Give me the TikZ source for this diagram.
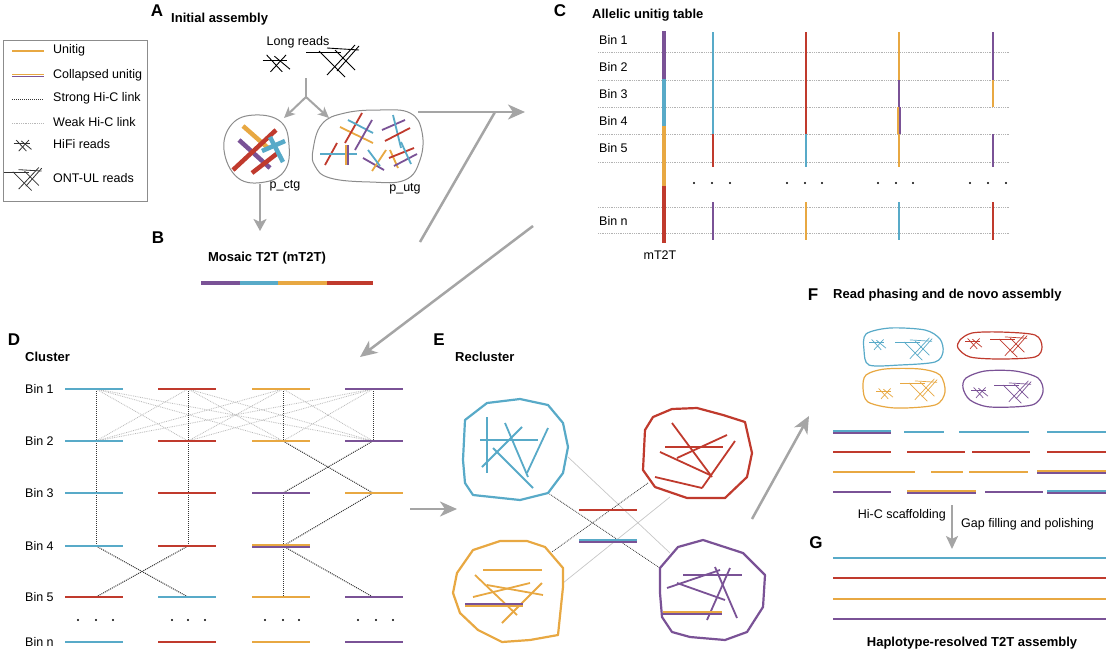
\documentclass[tikz,border=0pt]{standalone}
\usepackage{fontspec}
\setmainfont{Liberation Sans}
\usetikzlibrary{arrows.meta}
\definecolor{cblue}{RGB}{88,170,200}
\definecolor{cred}{RGB}{192,58,45}
\definecolor{corange}{RGB}{232,168,66}
\definecolor{cpurple}{RGB}{122,82,150}
\definecolor{agray}{RGB}{165,165,165}
\newcommand{\hcoll}[5]{%
  \draw[#4, line width=1.8pt] (#1,#3-1) -- (#2,#3-1);
  \draw[#5, line width=1.8pt] (#1,#3+1) -- (#2,#3+1);}
\newcommand{\vcoll}[5]{%
  \draw[#4, line width=1.6pt] (#1-1,#2) -- (#1-1,#3);
  \draw[#5, line width=1.6pt] (#1+1,#2) -- (#1+1,#3);}
\newcommand{\hb}[4]{\draw[#4, line width=2.8pt] (#1,#3) -- (#2,#3);}
\newcommand{\vb}[4]{\draw[#4, line width=2.3pt] (#1,#2) -- (#1,#3);}
\newcommand{\tdots}[4]{\fill (#1,#4) circle (1.1pt); \fill (#2,#4) circle (1.1pt); \fill (#3,#4) circle (1.1pt);}
\tikzset{
  lbl/.style={font=\fontsize{12.5}{14}\selectfont, inner sep=0pt},
  ttl/.style={font=\bfseries\fontsize{13}{15}\selectfont, inner sep=0pt},
  letter/.style={font=\bfseries\fontsize{17}{20}\selectfont, inner sep=0pt},
  strong/.style={densely dotted, line width=1pt, black!80},
  weak/.style={densely dotted, line width=0.8pt, black!28},
  tabline/.style={densely dotted, line width=0.8pt, black!30},
  bigarrow/.style={draw=agray, line width=2.5pt, -{Stealth[length=17pt,width=15pt,inset=5pt]}},
  grayline/.style={draw=agray, line width=2.5pt},
  smallarrow/.style={draw=agray, line width=2pt, -{Stealth[length=11pt,width=10pt,inset=3pt]}},
  blob/.style={line width=2.2pt, line join=round},
  rd/.style={line width=1.8pt},
  thick rd/.style={line width=4.5pt},
  hifi/.pic={
    \draw (-11,-3)--(8,-3);
    \draw (-8,-7)--(4,6);
    \draw (7,-7)--(-5,6);
    \draw (-2,-6)--(10,4);
  },
  ont/.pic={
    \draw (-27,-9)--(8,-9);
    \draw (-6,-13)--(26,-11);
    \draw (-14,-10)--(12,16);
    \draw (22,-16)--(-6,14);
    \draw (2,-11)--(22,9);
    \draw (26,-15)--(4,10);
  },
}
\begin{document}
\begin{tikzpicture}[x=1pt,y=-1pt]
\useasboundingbox[fill=white] (0,0) rectangle (1108,664);

% ---------------- Legend
\draw[black!45, line width=0.8pt] (3,40) rectangle (147,201);
\draw[corange, line width=2.2pt] (12,51) -- (44,51);
\node[lbl, anchor=west] (lg1) at (53,50) {Unitig};
\hcoll{12}{44}{75.5}{corange}{cpurple}
\node[lbl, anchor=west] (lg2) at (53,75) {Collapsed unitig};
\coordinate (ls1) at (12,99); \coordinate (ls2) at (44,99);
\draw[strong] (ls1) -- (ls2);
\node[lbl, anchor=west] (lg3) at (53,98) {Strong Hi-C link};
\coordinate (lw1) at (12,123); \coordinate (lw2) at (44,123);
\draw[weak] (lw1) -- (lw2);
\node[lbl, anchor=west] (lg4) at (53,122) {Weak Hi-C link};
\pic[black!80, line width=0.8pt, scale=0.85] at (23,146) {hifi};
\node[lbl, anchor=west] (lg5) at (53,144) {HiFi reads};
\pic[black!80, line width=0.8pt, scale=0.72] at (23,179) {ont};
\node[lbl, anchor=west] (lg6) at (53,178) {ONT-UL reads};

% ---------------- Panel A
\node[letter] (A) at (157,11) {A};
\node[ttl, anchor=west] (tA) at (171,19) {Initial assembly};
\node[lbl] (lr) at (298,42) {Long reads};
\pic[black, line width=0.9pt, scale=1.3] at (277,64) {hifi};
\pic[black, line width=0.9pt] at (333,61) {ont};
\coordinate (ys) at (306,78); \coordinate (yj) at (306,97);
\coordinate (yl) at (284,118); \coordinate (yr) at (329,118);
\draw[agray, line width=2pt] (ys) -- (yj);
\draw[smallarrow] (yj) -- (yl);
\draw[smallarrow] (yj) -- (yr);
% p_ctg blob
\draw[black!45, line width=1pt] plot[smooth cycle, tension=0.7] coordinates
  {(224,150) (232,124) (255,115) (281,122) (289,145) (285,170) (265,182) (238,178)};
\draw[corange, thick rd] (243,126) -- (268,148);
\draw[cpurple, thick rd] (239,140) -- (270,168);
\draw[cred, thick rd] (233,170) -- (276,130);
\draw[cred, thick rd] (252,173) -- (279,152);
\draw[cblue, thick rd] (262,151) -- (285,141);
\draw[cblue, thick rd] (270,137) -- (283,162);
\node[lbl] (pctg) at (285,186) {p\_ctg};
% p_utg blob
\draw[black!45, line width=1pt] plot[smooth cycle, tension=0.7] coordinates
  {(313,150) (322,124) (345,113) (380,110) (410,113) (422,132) (420,160) (405,180) (370,182) (330,178) (315,166)};
\begin{scope}[line width=1.8pt]
\draw[corange] (340,127) -- (373,143);
\draw[cred] (345,143) -- (362,113);
\draw[cblue] (348,120) -- (373,133);
\draw[cpurple] (355,150) -- (372,120);
\draw[cred] (325,165) -- (337,143);
\draw[cblue] (320,154) -- (357,154);
\draw[corange] (346,145) -- (346,165);
\draw[cpurple] (348,145) -- (348,165);
\draw[cpurple] (382,130) -- (405,120);
\draw[cblue] (393,115) -- (401,148);
\draw[cred] (385,141) -- (410,128);
\draw[cpurple] (363,158) -- (384,170);
\draw[corange] (372,171) -- (386,150);
\draw[cblue] (368,150) -- (380,166);
\draw[corange] (390,150) -- (398,168);
\draw[cred] (389,158) -- (414,148);
\draw[cpurple] (394,166) -- (417,154);
\draw[cblue] (401,142) -- (411,164);
\end{scope}
\node[lbl] (putg) at (405,189) {p\_utg};
\coordinate (a1) at (260,184); \coordinate (a2) at (260,231);
\draw[bigarrow, -{Stealth[length=12pt,width=13pt,inset=3pt]}] (a1) -- (a2);

% ---------------- Panel B
\node[letter] (B) at (158,238) {B};
\node[ttl] (tB) at (267,258) {Mosaic T2T (mT2T)};
\draw[cpurple, line width=4pt] (201,283) -- (240,283);
\draw[cblue, line width=4pt] (240,283) -- (278,283);
\draw[corange, line width=4pt] (278,283) -- (327,283);
\draw[cred, line width=4pt] (327,283) -- (373,283);

% ---------------- Big gray arrows A->C, C->D
\coordinate (z1) at (418,112); \coordinate (z2) at (525,112);
\coordinate (z3) at (495,112); \coordinate (z4) at (420,242);
\draw[bigarrow] (z1) -- (z2);
\draw[grayline] (z4) -- (z3);
\coordinate (z5) at (533,226); \coordinate (z6) at (360,357);
\draw[bigarrow] (z5) -- (z6);

% ---------------- Panel C
\node[letter] (C) at (560,11) {C};
\node[ttl, anchor=west] (tC) at (592,15) {Allelic unitig table};
\foreach \t/\y [count=\i] in {Bin 1/40,Bin 2/67,Bin 3/94,Bin 4/121,Bin 5/148,Bin n/221}
  \node[lbl, anchor=west] (cbin\i) at (599,\y) {\t};
\foreach \y [count=\i] in {52,80,107,134,162,207,233} {
  \coordinate (cl\i a) at (598,\y); \coordinate (cl\i b) at (1010,\y);
  \draw[tabline] (cl\i a) -- (cl\i b);}
\draw[cpurple, line width=4.5pt] (664,31) -- (664,79);
\draw[cblue, line width=4.5pt] (664,79) -- (664,126);
\draw[corange, line width=4.5pt] (664,126) -- (664,186);
\draw[cred, line width=4.5pt] (664,186) -- (664,243);
\node[lbl] (mt) at (660,255) {mT2T};
\vb{713}{32}{134}{cblue} \vb{713}{134}{167}{cred} \vb{713}{202}{240}{cpurple}
\vb{806}{32}{134}{cred} \vb{806}{134}{167}{cblue} \vb{806}{202}{240}{corange}
\vb{899}{32}{80}{corange} \vb{899}{80}{107}{cpurple} \vcoll{899}{107}{134}{corange}{cpurple}
\vb{899}{134}{167}{corange} \vb{899}{202}{240}{cblue}
\vb{993}{32}{80}{cpurple} \vb{993}{80}{107}{corange} \vb{993}{134}{167}{cpurple} \vb{993}{202}{240}{cred}
\tdots{694}{712}{730}{183} \tdots{787}{805}{822}{183}
\tdots{878}{896}{913}{183} \tdots{970}{988}{1006}{183}

% ---------------- Panel D
\node[letter] (D) at (14,340) {D};
\node[ttl, anchor=west] (tD) at (25,357) {Cluster};
\foreach \t/\y [count=\i] in {Bin 1/389,Bin 2/441,Bin 3/493,Bin 4/546,Bin 5/597,Bin n/642}
  \node[lbl, anchor=west] (dbin\i) at (25,\y) {\t};
\foreach \c/\x in {1/96,2/188,3/283,4/373}
  \foreach \r/\y in {1/389,2/441,3/493,4/546,5/597}
    \coordinate (d\r\c) at (\x,\y);
% weak links
\foreach \i in {1,...,4}
  \foreach \j in {1,...,4} {
    \ifnum\i=\j\relax\else \draw[weak] (d1\i) -- (d2\j);\fi}
% strong links
\draw[strong] (d11) -- (d41);
\draw[strong] (d12) -- (d42);
\draw[strong] (d13) -- (d23);
\draw[strong] (d14) -- (d24);
\draw[strong] (d33) -- (d53);
\draw[strong] (d41) -- (d52);
\draw[strong] (d42) -- (d51);
\draw[strong] (d23) -- (d34);
\draw[strong] (d24) -- (d33);
\draw[strong] (d34) -- (d43);
\draw[strong] (d43) -- (d54);
% bars
\hb{65}{123}{389}{cblue} \hb{158}{216}{389}{cred} \hb{252}{310}{389}{corange} \hb{345}{403}{389}{cpurple}
\hb{65}{123}{441}{cblue} \hb{158}{216}{441}{cred} \hb{252}{310}{441}{corange} \hb{345}{403}{441}{cpurple}
\hb{65}{123}{493}{cblue} \hb{158}{216}{493}{cred} \hb{252}{310}{493}{cpurple} \hb{345}{403}{493}{corange}
\hb{65}{123}{546}{cblue} \hb{158}{216}{546}{cred} \hcoll{252}{310}{546}{corange}{cpurple}
\hb{65}{123}{597}{cred} \hb{158}{216}{597}{cblue} \hb{252}{310}{597}{corange} \hb{345}{403}{597}{cpurple}
\hb{65}{123}{642}{cblue} \hb{158}{216}{642}{cred} \hb{252}{310}{642}{corange} \hb{345}{403}{642}{cpurple}
\tdots{78}{96}{113}{620} \tdots{172}{188}{205}{620}
\tdots{265}{283}{299}{620} \tdots{358}{376}{393}{620}
\coordinate (de1) at (410,509); \coordinate (de2) at (457,509);
\draw[bigarrow] (de1) -- (de2);

% ---------------- Panel E
\node[letter] (E) at (439,340) {E};
\node[ttl, anchor=west] (tE) at (455,357) {Recluster};
% links
\coordinate (eb1) at (548,493); \coordinate (ep1) at (660,568);
\coordinate (eb2) at (568,457); \coordinate (ep2) at (670,553);
\coordinate (er1) at (648,483); \coordinate (eo1) at (552,552);
\coordinate (er2) at (670,497); \coordinate (eo2) at (563,583);
\draw[weak, line width=0.7pt, solid, black!22] (eb2) -- (ep2);
\draw[weak, line width=0.7pt, solid, black!22] (er2) -- (eo2);
\draw[strong, line width=0.8pt] (eb1) -- (ep1);
\draw[strong, line width=0.8pt] (er1) -- (eo1);
% middle bars
\draw[cred, line width=2.5pt] (579,510) -- (637,510);
\hcoll{579}{637}{541}{cblue}{cpurple}
% blue blob
\draw[cblue, blob] (465,420) -- (487,403) -- (520,399) -- (548,405) -- (563,423) -- (568,447) -- (563,473) -- (548,493) -- (520,500) -- (473,495) -- (465,483) -- (463,460) -- cycle;
\begin{scope}[cblue, rd]
\draw (487,417) -- (487,473); \draw (480,440) -- (538,440);
\draw (505,423) -- (528,477); \draw (482,467) -- (522,427);
\draw (548,428) -- (527,473); \draw (493,448) -- (533,488);
\end{scope}
% red blob
\draw[cred, blob] (645,430) -- (653,417) -- (672,409) -- (697,408) -- (723,415) -- (745,422) -- (752,453) -- (747,477) -- (725,498) -- (687,498) -- (655,487) -- (643,470) -- cycle;
\begin{scope}[cred, rd]
\draw (665,447) -- (723,447); \draw (672,423) -- (712,477);
\draw (660,452) -- (710,475); \draw (677,458) -- (727,435);
\draw (655,477) -- (702,488); \draw (702,488) -- (735,441);
\end{scope}
% orange blob
\draw[corange, blob] (457,573) -- (473,550) -- (500,541) -- (527,541) -- (545,547) -- (563,568) -- (563,587) -- (558,635) -- (530,640) -- (502,642) -- (478,630) -- (460,613) -- (453,593) -- cycle;
\begin{scope}[corange, rd]
\draw (483,570) -- (542,570); \draw (475,575) -- (517,615);
\draw (473,597) -- (530,583); \draw (487,585) -- (543,595);
\draw (502,623) -- (542,583);
\end{scope}
\hcoll{465}{523}{605}{cpurple}{corange}
% purple blob
\draw[cpurple, blob] (660,568) -- (678,547) -- (703,540) -- (743,553) -- (765,575) -- (763,607) -- (747,632) -- (725,640) -- (690,637) -- (672,632) -- (662,617) -- (660,593) -- cycle;
\begin{scope}[cpurple, rd]
\draw (683,575) -- (742,575); \draw (667,588) -- (720,570);
\draw (677,583) -- (725,600); \draw (715,567) -- (737,618);
\draw (730,568) -- (707,620);
\end{scope}
\hcoll{663}{722}{613}{corange}{cpurple}
\coordinate (ef1) at (752,519); \coordinate (ef2) at (809,416);
\draw[bigarrow] (ef1) -- (ef2);

% ---------------- Panel F
\node[letter] (F) at (813,295) {F};
\node[ttl, anchor=west] (tF) at (833,295) {Read phasing and de novo assembly};
\draw[cblue, line width=1.2pt] plot[smooth cycle, tension=0.5] coordinates
  {(866,334) (890,328) (925,330) (940,339) (943,352) (935,362) (900,365) (869,365) (864,350)};
\draw[cred, line width=1.2pt] plot[smooth cycle, tension=0.5] coordinates
  {(960,340) (972,333) (1000,332) (1035,335) (1042,347) (1035,357) (1000,359) (970,357) (958,348)};
\draw[corange, line width=1.2pt] plot[smooth cycle, tension=0.5] coordinates
  {(866,375) (885,369) (920,369) (940,375) (945,392) (935,405) (895,408) (868,402) (863,388)};
\draw[cpurple, line width=1.2pt] plot[smooth cycle, tension=0.5] coordinates
  {(966,378) (985,371) (1015,371) (1038,378) (1043,392) (1032,405) (990,407) (970,400) (963,388)};
\pic[cblue, line width=0.7pt, scale=0.8] at (878,345) {hifi};
\pic[cblue, line width=0.7pt, scale=0.7] at (914,349) {ont};
\pic[cred, line width=0.7pt, scale=0.8] at (974,344) {hifi};
\pic[cred, line width=0.7pt, scale=0.7] at (1009,346) {ont};
\pic[corange, line width=0.7pt, scale=0.8] at (885,394) {hifi};
\pic[corange, line width=0.7pt, scale=0.7] at (919,390) {ont};
\pic[cpurple, line width=0.7pt, scale=0.8] at (980,393) {hifi};
\pic[cpurple, line width=0.7pt, scale=0.7] at (1013,392) {ont};
% contig rows
\hcoll{833}{891}{432}{cblue}{cpurple}
\hb{904}{944}{432}{cblue} \hb{959}{1029}{432}{cblue} \hb{1047}{1106}{432}{cblue}
\hb{833}{891}{452}{cred} \hb{907}{965}{452}{cred} \hb{972}{1030}{452}{cred} \hb{1047}{1106}{452}{cred}
\hb{833}{915}{472}{corange} \hb{931}{963}{472}{corange} \hb{969}{1028}{472}{corange}
\hcoll{1037}{1106}{472}{corange}{cpurple}
\hb{833}{891}{492}{cpurple} \hcoll{907}{976}{492}{corange}{cpurple}
\hb{985}{1043}{492}{cpurple} \hcoll{1047}{1106}{492}{cblue}{cpurple}
\coordinate (fg1) at (952,505); \coordinate (fg2) at (952,549);
\draw[draw=agray, line width=2.2pt, -{Stealth[length=13pt,width=12pt,inset=3pt]}] (fg1) -- (fg2);
\node[lbl, anchor=east] (hic) at (946,515) {Hi-C scaffolding};
\node[lbl, anchor=west] (gap) at (961,524) {Gap filling and polishing};

% ---------------- Panel G
\node[letter] (G) at (816,543) {G};
\hb{833}{1106}{558}{cblue}
\hb{833}{1106}{578}{cred}
\hb{833}{1106}{599}{corange}
\hb{833}{1106}{619}{cpurple}
\node[ttl] (tG) at (972,643) {Haplotype-resolved T2T assembly};
\end{tikzpicture}
\end{document}
